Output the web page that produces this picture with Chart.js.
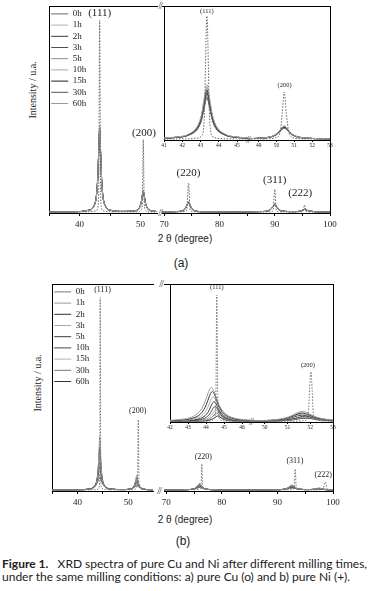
<!DOCTYPE html>
<html>
<head>
<meta charset="utf-8">
<script src="https://cdn.jsdelivr.net/npm/chart.js@4.4.1/dist/chart.umd.min.js"></script>
<style>
  html, body { margin: 0; padding: 0; background: #fff; }
  #page { position: relative; width: 373px; height: 591px; overflow: hidden; background: #fff; }
  canvas { position: absolute; }
  .t { position: absolute; white-space: nowrap; color: #222; line-height: 1; transform: translate(-50%, -50%); }
  .serif { font-family: "Liberation Serif", serif; }
  .sans { font-family: "Liberation Sans", sans-serif; }
  .ylab { font-size: 10px; transform: translate(-50%, -50%) rotate(-90deg); }
  .xlab { font-size: 10px; }
  .sub { font-size: 12px; }
  .brk { font-size: 10px; letter-spacing: -1px; }
  .cap { position: absolute; left: 2px; white-space: nowrap; color: #222; font-family: "Lato", sans-serif; font-size: 12px; line-height: 1; }
</style>
</head>
<body>
<div id="page">
  <div class="t serif ylab" style="left:33px; top:90px;">Intensity / u.a.</div>
  <div class="t sans xlab" style="left:185px; top:239px;">2 &theta; (degree)</div>
  <div class="t sans sub" style="left:181px; top:263px;">(a)</div>

  <div class="t serif ylab" style="left:38px; top:383px;">Intensity / u.a.</div>
  <div class="t sans xlab" style="left:185px; top:520px;">2 &theta; (degree)</div>
  <div class="t sans sub" style="left:183px; top:541px;">(b)</div>

  <div class="t serif brk" style="left:160px; top:6px;">//</div>
  <div class="t serif brk" style="left:160px; top:213px;">//</div>
  <div class="t serif brk" style="left:248px; top:140px;">//</div>
  <div class="t serif brk" style="left:161px; top:284px;">//</div>
  <div class="t serif brk" style="left:159px; top:491px;">//</div>
  <div class="t serif brk" style="left:251px; top:422px;">//</div>

  <div class="cap" style="top:558px;"><b>Figure 1.</b>&nbsp;&nbsp;&nbsp;XRD spectra of pure Cu and Ni after different milling times,</div>
  <div class="cap" style="top:571px;">under the same milling conditions: a) pure Cu (o) and b) pure Ni (+).</div>
</div>
<script>
// series names (milling time)
const timeLabels = ['0h', '1h', '2h', '3h', '5h', '10h', '15h', '30h', '60h'];

// ---- (a) pure Cu, main plot, left part of the broken axis
const cuMainLeftX = [35, 39, 41.5, 42.3, 42.8, 43.0, 43.15, 43.3, 43.45, 43.6, 43.8, 44.3, 45.2, 47,
                     49.2, 49.8, 50.1, 50.3, 50.45, 50.6, 50.8, 51.1, 51.7, 52.7];
const cuMainLeftY = [
  [0.5, 0.5, 0.6, 0.8, 1.2, 2.5, 13, 93, 13, 2.5, 1.2, 0.8, 0.6, 0.5, 0.5, 0.7, 1.5, 5, 35.5, 5, 1.5, 0.7, 0.5, 0.5],
  [0.5, 0.6, 1.3, 2.9, 8.7, 17.3, 30.6, 41.5, 30.6, 17.3, 8.7, 2.9, 1.2, 0.75, 1.1, 2.35, 4.85, 8.7, 10.8, 8.7, 4.8, 2.3, 1.1, 0.7],
  [0.5, 0.6, 1.3, 3.0, 8.9, 17.6, 30.2, 40.6, 30.2, 17.6, 8.9, 3.0, 1.2, 0.75, 1.1, 2.4, 4.9, 8.6, 10.5, 8.6, 4.9, 2.4, 1.1, 0.7],
  [0.5, 0.6, 1.3, 3.0, 9.0, 17.8, 30.0, 40.0, 30.0, 17.8, 9.0, 3.0, 1.2, 0.75, 1.1, 2.4, 4.9, 8.5, 10.3, 8.5, 4.9, 2.4, 1.1, 0.7],
  [0.5, 0.6, 1.3, 2.9, 8.6, 17.2, 30.8, 42.0, 30.8, 17.2, 8.6, 2.9, 1.2, 0.75, 1.1, 2.3, 4.8, 8.8, 11.0, 8.8, 4.8, 2.3, 1.1, 0.7],
  [0.5, 0.6, 1.4, 3.1, 9.2, 18.0, 29.5, 39.0, 29.5, 18.0, 9.2, 3.1, 1.3, 0.8, 1.2, 2.5, 5.0, 8.4, 10.0, 8.4, 5.0, 2.5, 1.2, 0.7],
  [0.5, 0.6, 1.4, 3.1, 9.3, 18.2, 29.2, 38.5, 29.2, 18.2, 9.3, 3.1, 1.3, 0.8, 1.2, 2.5, 5.0, 8.3, 9.9, 8.3, 5.0, 2.5, 1.2, 0.7],
  [0.5, 0.6, 1.3, 3.0, 9.0, 17.7, 30.1, 40.3, 30.1, 17.7, 9.0, 3.0, 1.2, 0.75, 1.1, 2.4, 4.9, 8.6, 10.4, 8.6, 4.9, 2.4, 1.1, 0.7],
  [0.5, 0.6, 1.4, 3.2, 9.4, 18.4, 29.0, 38.0, 29.0, 18.4, 9.4, 3.2, 1.3, 0.8, 1.2, 2.5, 5.1, 8.2, 9.7, 8.2, 5.1, 2.5, 1.2, 0.7]
];

// ---- (a) pure Cu, main plot, right part
const cuMainRightX = [69.6, 72, 73.3, 73.8, 74.1, 74.4, 74.7, 75.0, 75.5, 77, 83, 88, 89.2, 89.7, 90.0, 90.3,
                      90.8, 91.6, 93.5, 94.7, 95.1, 95.4, 95.7, 96.3, 98, 100];
const cuMainRightY = [
  [0.5, 0.5, 0.6, 0.8, 1.4, 14.5, 1.4, 0.8, 0.6, 0.5, 0.5, 0.5, 0.6, 1.2, 11.4, 1.2, 0.6, 0.5, 0.5, 0.55, 0.75, 3.9, 0.75, 0.55, 0.5, 0.5],
  [0.5, 0.63, 1.08, 2.0, 3.7, 5.5, 3.7, 2.0, 1.08, 0.6, 0.5, 0.72, 1.56, 3.3, 4.3, 3.3, 1.56, 0.84, 0.65, 0.94, 1.46, 1.8, 1.46, 0.94, 0.55, 0.5],
  [0.5, 0.63, 1.1, 2.0, 3.6, 5.3, 3.6, 2.0, 1.1, 0.6, 0.5, 0.72, 1.55, 3.2, 4.2, 3.2, 1.55, 0.84, 0.65, 0.94, 1.45, 1.75, 1.45, 0.94, 0.55, 0.5],
  [0.5, 0.64, 1.1, 2.05, 3.7, 5.4, 3.7, 2.05, 1.1, 0.6, 0.5, 0.73, 1.6, 3.3, 4.2, 3.3, 1.6, 0.85, 0.65, 0.95, 1.45, 1.8, 1.45, 0.95, 0.55, 0.5],
  [0.5, 0.62, 1.05, 1.95, 3.8, 5.7, 3.8, 1.95, 1.05, 0.6, 0.5, 0.7, 1.5, 3.3, 4.4, 3.3, 1.5, 0.82, 0.65, 0.92, 1.5, 1.85, 1.5, 0.92, 0.55, 0.5],
  [0.5, 0.65, 1.15, 2.1, 3.6, 5.1, 3.6, 2.1, 1.15, 0.62, 0.5, 0.75, 1.6, 3.1, 4.0, 3.1, 1.6, 0.86, 0.66, 0.96, 1.4, 1.7, 1.4, 0.96, 0.56, 0.5],
  [0.5, 0.65, 1.15, 2.1, 3.5, 5.0, 3.5, 2.1, 1.15, 0.62, 0.5, 0.75, 1.6, 3.1, 3.9, 3.1, 1.6, 0.86, 0.66, 0.96, 1.4, 1.7, 1.4, 0.96, 0.56, 0.5],
  [0.5, 0.64, 1.1, 2.0, 3.7, 5.4, 3.7, 2.0, 1.1, 0.6, 0.5, 0.72, 1.55, 3.25, 4.2, 3.25, 1.55, 0.84, 0.65, 0.94, 1.45, 1.8, 1.45, 0.94, 0.55, 0.5],
  [0.5, 0.66, 1.2, 2.15, 3.5, 4.9, 3.5, 2.15, 1.2, 0.63, 0.5, 0.76, 1.65, 3.0, 3.8, 3.0, 1.65, 0.87, 0.67, 0.97, 1.4, 1.65, 1.4, 0.97, 0.56, 0.5]
];

// ---- (a) pure Cu, inset
const cuInsetLeftX = [41, 41.8, 42.35, 42.85, 43.05, 43.2, 43.35, 43.5, 43.65, 43.85, 44.35, 44.9, 45.6];
const cuInsetLeftY = [
  [0.75, 0.8, 0.9, 1.5, 3, 15, 92.5, 15, 3, 1.5, 0.9, 0.8, 0.75],
  [1.6, 2.4, 4.4, 10.9, 19, 31.1, 41.3, 31.1, 19, 10.9, 4.4, 2.4, 1.6],
  [1.5, 2.2, 4.0, 9.9, 17.2, 28.1, 37.3, 28.1, 17.2, 9.9, 4.0, 2.2, 1.5],
  [1.4, 2.1, 3.9, 9.4, 16.3, 26.6, 35.3, 26.6, 16.3, 9.4, 3.9, 2.1, 1.4],
  [1.5, 2.3, 4.2, 10.4, 18.1, 29.6, 39.3, 29.6, 18.1, 10.4, 4.2, 2.3, 1.5],
  [1.4, 2.1, 3.7, 9.0, 15.6, 25.5, 33.8, 25.5, 15.6, 9.0, 3.7, 2.1, 1.4],
  [1.4, 2.0, 3.6, 8.5, 14.7, 24.0, 31.8, 24.0, 14.7, 8.5, 3.6, 2.0, 1.4],
  [1.4, 2.1, 3.8, 9.3, 16.1, 26.3, 34.8, 26.3, 16.1, 9.3, 3.8, 2.1, 1.4],
  [1.5, 2.2, 4.0, 9.8, 17.0, 27.8, 36.8, 27.8, 17.0, 9.8, 4.0, 2.2, 1.5]
];
const cuInsetRightX = [48.4, 49.2, 49.7, 50.0, 50.2, 50.32, 50.43, 50.55, 50.7, 50.9, 51.2, 51.7, 52.4, 53];
const cuInsetRightY = [
  [0.75, 0.8, 1.0, 2.0, 5.5, 20, 35.8, 20, 5.5, 2.0, 1.0, 0.8, 0.75, 0.75],
  [1.0, 1.5, 2.6, 4.7, 7.6, 9.7, 10.55, 9.6, 6.9, 4.3, 2.4, 1.4, 1.0, 0.95],
  [1.0, 1.5, 2.5, 4.4, 7.1, 8.9, 9.75, 8.9, 6.4, 4.0, 2.3, 1.4, 1.0, 0.95],
  [1.0, 1.4, 2.4, 4.2, 6.8, 8.6, 9.35, 8.5, 6.2, 3.9, 2.2, 1.35, 1.0, 0.9],
  [1.0, 1.5, 2.5, 4.5, 7.3, 9.3, 10.15, 9.2, 6.7, 4.1, 2.35, 1.4, 1.0, 0.95],
  [1.0, 1.4, 2.35, 4.1, 6.6, 8.4, 9.15, 8.3, 6.0, 3.8, 2.2, 1.35, 1.0, 0.9],
  [1.0, 1.4, 2.3, 4.0, 6.5, 8.2, 8.95, 8.1, 5.9, 3.7, 2.1, 1.3, 1.0, 0.9],
  [1.0, 1.45, 2.4, 4.3, 6.9, 8.8, 9.55, 8.7, 6.3, 3.9, 2.25, 1.37, 1.0, 0.92],
  [1.0, 1.5, 2.5, 4.4, 7.2, 9.1, 9.95, 9.0, 6.6, 4.05, 2.3, 1.4, 1.0, 0.94]
];

// ---- (b) pure Ni, main plot
const niMainLeftX = [35, 40, 42.5, 43.3, 43.8, 44.1, 44.25, 44.4, 44.5, 44.6, 44.8, 45.1, 45.6, 46.5,
                     49, 50.3, 50.9, 51.3, 51.5, 51.7, 51.85, 52.0, 52.15, 52.5, 53.0, 53.8, 55];
const niMainLeftY = [
  [0.5, 0.5, 0.55, 0.6, 0.7, 1.0, 1.5, 6, 93.5, 6, 1.5, 0.9, 0.7, 0.6, 0.5, 0.55, 0.6, 0.8, 1.1, 1.8, 4, 34.5, 4, 1.0, 0.7, 0.55, 0.5],
  [0.52, 0.58, 0.93, 1.75, 4.3, 11.0, 19.2, 26.0, 22.5, 16.0, 7.7, 3.4, 1.56, 0.86, 0.66, 0.85, 1.39, 3.09, 5.48, 7.7, 6.26, 4.1, 2.7, 1.39, 0.86, 0.64, 0.56],
  [0.52, 0.6, 1.0, 1.92, 4.6, 10.75, 16.9, 21.0, 18.95, 14.7, 7.9, 3.7, 1.7, 0.91, 0.67, 0.88, 1.46, 3.1, 5.02, 6.5, 5.57, 3.96, 2.76, 1.46, 0.91, 0.66, 0.57],
  [0.52, 0.6, 1.04, 2.02, 4.7, 10.0, 14.4, 17.0, 15.75, 12.9, 7.66, 3.8, 1.8, 0.95, 0.68, 0.91, 1.5, 3.0, 4.5, 5.5, 4.89, 3.7, 2.7, 1.5, 0.93, 0.67, 0.57],
  [0.53, 0.61, 1.07, 2.08, 4.65, 9.14, 12.34, 14.0, 13.2, 11.3, 7.25, 3.82, 1.85, 0.97, 0.68, 0.92, 1.51, 2.85, 4.0, 4.7, 4.28, 3.41, 2.6, 1.51, 0.95, 0.68, 0.58],
  [0.53, 0.61, 1.08, 2.08, 4.46, 8.1, 10.4, 11.5, 10.99, 9.68, 6.65, 3.72, 1.86, 0.98, 0.69, 0.93, 1.48, 2.63, 3.52, 4.0, 3.71, 3.07, 2.43, 1.48, 0.95, 0.69, 0.58],
  [0.53, 0.61, 1.08, 2.04, 4.19, 7.12, 8.76, 9.5, 9.15, 8.26, 5.99, 3.54, 1.83, 0.98, 0.69, 0.92, 1.43, 2.4, 3.06, 3.4, 3.2, 2.73, 2.24, 1.43, 0.94, 0.69, 0.58],
  [0.53, 0.61, 1.06, 1.94, 3.79, 6.05, 7.2, 7.7, 7.47, 6.86, 5.21, 3.25, 1.75, 0.96, 0.68, 0.9, 1.36, 2.16, 2.66, 2.9, 2.76, 2.42, 2.04, 1.36, 0.92, 0.68, 0.58],
  [0.53, 0.6, 1.03, 1.83, 3.4, 5.14, 5.96, 6.3, 6.14, 5.72, 4.52, 2.96, 1.66, 0.94, 0.68, 0.88, 1.3, 1.95, 2.33, 2.5, 2.4, 2.15, 1.85, 1.3, 0.9, 0.68, 0.57]
];
const niMainRightX = [69.6, 72, 74.3, 75.2, 75.7, 76.0, 76.25, 76.4, 76.55, 77.0, 78.0, 80, 86, 90.2,
                      91.5, 92.2, 92.6, 93.0, 93.2, 93.4, 94.0, 95.5, 96.7, 97.5, 98.2, 98.6, 99.0, 100];
const niMainRightY = [
  [0.5, 0.5, 0.55, 0.6, 0.7, 0.8, 1.5, 13.1, 1.5, 0.75, 0.6, 0.5, 0.5, 0.5, 0.55, 0.6, 0.7, 1.4, 10.6, 1.4, 0.7, 0.55, 0.5, 0.55, 0.7, 4.4, 0.7, 0.5],
  [0.52, 0.54, 0.71, 1.27, 2.72, 3.7, 2.94, 2.29, 1.78, 1.04, 0.65, 0.55, 0.52, 0.64, 1.05, 2.16, 2.9, 2.16, 1.7, 1.36, 0.9, 0.7, 0.94, 1.43, 0.97, 0.78, 0.67, 0.57],
  [0.52, 0.54, 0.72, 1.29, 2.56, 3.3, 2.74, 2.21, 1.77, 1.06, 0.66, 0.55, 0.52, 0.64, 1.04, 2.02, 2.6, 2.02, 1.63, 1.34, 0.9, 0.69, 0.9, 1.33, 0.92, 0.75, 0.65, 0.56],
  [0.52, 0.55, 0.73, 1.27, 2.35, 2.9, 2.49, 2.07, 1.7, 1.06, 0.67, 0.55, 0.52, 0.65, 1.03, 1.89, 2.35, 1.89, 1.57, 1.3, 0.9, 0.68, 0.85, 1.23, 0.87, 0.71, 0.63, 0.56],
  [0.52, 0.55, 0.73, 1.26, 2.18, 2.6, 2.29, 1.95, 1.64, 1.06, 0.67, 0.55, 0.52, 0.64, 1.01, 1.75, 2.1, 1.75, 1.48, 1.25, 0.88, 0.68, 0.83, 1.18, 0.85, 0.7, 0.62, 0.55],
  [0.52, 0.55, 0.73, 1.22, 1.98, 2.3, 2.07, 1.81, 1.55, 1.03, 0.67, 0.55, 0.52, 0.64, 0.98, 1.62, 1.9, 1.62, 1.4, 1.2, 0.86, 0.67, 0.82, 1.13, 0.83, 0.69, 0.62, 0.55],
  [0.52, 0.55, 0.73, 1.17, 1.81, 2.05, 1.87, 1.67, 1.46, 1.01, 0.67, 0.55, 0.52, 0.64, 0.97, 1.52, 1.75, 1.52, 1.33, 1.16, 0.84, 0.67, 0.8, 1.08, 0.8, 0.68, 0.61, 0.55],
  [0.52, 0.55, 0.72, 1.13, 1.66, 1.85, 1.72, 1.55, 1.38, 0.99, 0.67, 0.55, 0.52, 0.64, 0.94, 1.42, 1.6, 1.42, 1.26, 1.11, 0.82, 0.66, 0.78, 1.03, 0.78, 0.67, 0.6, 0.55],
  [0.52, 0.55, 0.72, 1.1, 1.55, 1.7, 1.59, 1.46, 1.32, 0.97, 0.67, 0.55, 0.52, 0.64, 0.93, 1.35, 1.5, 1.35, 1.22, 1.08, 0.82, 0.66, 0.77, 0.98, 0.76, 0.66, 0.6, 0.55]
];

// ---- (b) pure Ni, inset
const niInsetLeftX = [42, 42.8, 43.3, 43.7, 43.95, 44.1, 44.2, 44.3, 44.35, 44.4, 44.45, 44.5, 44.55, 44.6,
                      44.65, 44.75, 44.9, 45.1, 45.4, 45.8, 46.5];
const niInsetLeftY = [
  [0.4, 0.42, 0.45, 0.5, 0.55, 0.6, 0.7, 0.9, 1.1, 1.5, 2.5, 5, 20, 92, 20, 2.5, 1.0, 0.7, 0.55, 0.45, 0.42],
  [1.18, 2.19, 4.08, 8.49, 14.86, 20.37, 23.58, 24.9, 24.56, 23.58, 22.13, 20.37, 18.48, 16.62, 14.86, 11.82, 8.49, 5.69, 3.51, 2.19, 1.26],
  [0.95, 1.63, 2.91, 5.89, 10.64, 15.48, 19.08, 21.63, 22.0, 21.63, 20.6, 19.08, 17.31, 15.48, 13.71, 10.64, 7.38, 4.81, 2.91, 1.78, 1.05],
  [0.78, 1.22, 2.05, 3.98, 7.15, 10.71, 13.9, 16.94, 17.94, 18.3, 17.94, 16.94, 15.53, 13.9, 12.25, 9.35, 6.29, 3.98, 2.35, 1.46, 0.88],
  [0.64, 0.91, 1.43, 2.6, 4.55, 6.91, 9.28, 12.13, 13.43, 14.36, 14.7, 14.36, 13.43, 12.13, 10.68, 8.01, 5.2, 3.19, 1.86, 1.16, 0.74],
  [0.55, 0.72, 1.03, 1.72, 2.85, 4.25, 5.75, 7.8, 8.96, 10.03, 10.81, 11.1, 10.81, 10.03, 8.96, 6.71, 4.25, 2.54, 1.47, 0.95, 0.64],
  [0.5, 0.61, 0.8, 1.21, 1.89, 2.72, 3.64, 5.01, 5.89, 6.85, 7.76, 8.44, 8.7, 8.44, 7.76, 5.89, 3.64, 2.11, 1.21, 0.8, 0.57],
  [0.47, 0.53, 0.65, 0.91, 1.3, 1.78, 2.31, 3.13, 3.68, 4.34, 5.06, 5.76, 6.3, 6.5, 6.3, 5.06, 3.13, 1.78, 1.02, 0.69, 0.52],
  [0.44, 0.47, 0.54, 0.67, 0.87, 1.11, 1.38, 1.79, 2.07, 2.43, 2.85, 3.33, 3.8, 4.16, 4.3, 3.8, 2.43, 1.38, 0.82, 0.59, 0.47]
];
const niInsetRightX = [49.4, 50.0, 50.5, 50.9, 51.2, 51.45, 51.65, 51.8, 51.9, 52.03, 52.15, 52.3, 52.5, 52.8, 53];
const niInsetRightY = [
  [0.4, 0.42, 0.45, 0.5, 0.55, 0.65, 0.8, 1.3, 3.5, 36.4, 4, 1.4, 0.8, 0.55, 0.5],
  [0.8, 1.12, 1.74, 2.92, 4.72, 6.76, 7.6, 7.1, 6.37, 5.27, 4.35, 3.4, 2.52, 1.74, 1.42],
  [0.74, 1.01, 1.53, 2.54, 4.06, 5.79, 6.5, 6.08, 5.46, 4.53, 3.74, 2.94, 2.2, 1.53, 1.27],
  [0.7, 0.93, 1.39, 2.26, 3.58, 5.08, 5.7, 5.33, 4.79, 3.99, 3.3, 2.61, 1.96, 1.39, 1.15],
  [0.66, 0.86, 1.26, 2.01, 3.16, 4.46, 5.0, 4.68, 4.21, 3.51, 2.92, 2.32, 1.76, 1.26, 1.05],
  [0.6, 0.73, 0.99, 1.46, 2.18, 3.18, 4.03, 4.3, 4.18, 3.72, 3.18, 2.54, 1.89, 1.3, 1.08],
  [0.57, 0.68, 0.9, 1.3, 1.91, 2.75, 3.47, 3.7, 3.59, 3.21, 2.75, 2.21, 1.66, 1.17, 0.97],
  [0.54, 0.64, 0.83, 1.16, 1.68, 2.39, 3.01, 3.2, 3.11, 2.78, 2.39, 1.93, 1.47, 1.05, 0.89],
  [0.52, 0.6, 0.76, 1.05, 1.5, 2.11, 2.63, 2.8, 2.72, 2.44, 2.11, 1.72, 1.32, 0.96, 0.82]
];

// peak (hkl) labels
const peakText = ['(111)', '(200)', '(220)', '(311)', '(222)'];
const cuPeakX = [43.3, 50.55, 74.4, 90.0, 94.6];
const cuPeakY = [96.6, 38.6, 19.3, 15.9, 9.5];
const niPeakX = [44.95, 51.9, 76.67, 93.16, 98.25];
const niPeakY = [97.1, 38.6, 16.6, 14.6, 7.7];
const insetText = ['(111)', '(200)'];
const cuInsetPeakX = [43.35, 50.45];
const cuInsetPeakY = [96.3, 41];
const niInsetPeakX = [44.6, 51.9];
const niInsetPeakY = [97.8, 41.3];

// line colours per series
const cuColors = ['#666', '#b0b0b0', '#3a3a3a', '#505050', '#8a8a8a', '#a8a8a8', '#1e1e1e', '#555', '#999'];
const niColors = ['#777', '#999', '#333', '#aaa', '#3a3a3a', '#444', '#b0b0b0', '#777', '#333'];

Chart.defaults.font.family = '"Liberation Serif", serif';

const page = document.getElementById('page');

const peakLabelPlugin = {
  id: 'peakLabels',
  afterDatasetsDraw(chart, args, opts) {
    if (!opts.text) return;
    const { ctx, scales: { x, y } } = chart;
    ctx.save();
    ctx.font = opts.font;
    ctx.fillStyle = '#222';
    ctx.textAlign = 'center';
    ctx.textBaseline = 'middle';
    opts.text.forEach((t, i) => {
      const v = opts.xs[i];
      if (v < x.min || v > x.max) return;
      ctx.fillText(t, x.getPixelForValue(v), y.getPixelForValue(opts.ys[i]));
    });
    ctx.restore();
  }
};

const cuMainStyle = { axisH: 20, tickLen: 3, tickPad: 3, step: 5, every: 10, tickFont: 9, labelFont: '11px "Liberation Serif"' };
const niMainStyle = { axisH: 20, tickLen: 3, tickPad: 3, step: 5, every: 10, tickFont: 9, labelFont: '8px "Liberation Serif"' };
const insetStyle = { axisH: 10, tickLen: 2, tickPad: 0.5, step: 1, every: 1, tickFont: 5.5, labelFont: '6.5px "Liberation Serif"' };

function drawSegment(cfg) {
  const st = cfg.style;
  const padL = 12, padR = 12, padT = 3;
  const canvas = document.createElement('canvas');
  canvas.width = cfg.right - cfg.left + padL + padR;
  canvas.height = cfg.bottom - cfg.top + padT + st.axisH;
  canvas.style.left = (cfg.left - padL) + 'px';
  canvas.style.top = (cfg.top - padT) + 'px';
  page.appendChild(canvas);

  const datasets = cfg.ys.map((row, i) => ({
    label: timeLabels[i],
    data: cfg.xs.map((x, j) => ({ x: x, y: row[j] })),
    borderColor: cfg.colors[i],
    backgroundColor: cfg.colors[i],
    borderWidth: 1,
    borderDash: i === 0 ? [1.5, 1.5] : [],
    pointRadius: 0,
    cubicInterpolationMode: 'monotone',
    fill: false
  }));

  return new Chart(canvas, {
    type: 'line',
    data: { datasets },
    plugins: [peakLabelPlugin],
    options: {
      responsive: false,
      animation: false,
      events: [],
      layout: { padding: { left: padL, right: padR, top: padT, bottom: 0 } },
      plugins: {
        tooltip: { enabled: false },
        legend: {
          display: !!cfg.legend,
          position: 'chartArea',
          align: 'start',
          // empty title only pushes the list a few pixels below the frame
          title: { display: true, text: ' ', font: { size: 1 }, padding: { top: 0, bottom: 3 } },
          labels: {
            usePointStyle: true,
            pointStyle: 'line',
            pointStyleWidth: 17,
            padding: 2.2,
            color: '#222',
            font: { size: 9 }
          }
        },
        peakLabels: { text: cfg.labels.text, xs: cfg.labels.xs, ys: cfg.labels.ys, font: st.labelFont }
      },
      scales: {
        x: {
          type: 'linear', position: 'bottom', min: cfg.min, max: cfg.max,
          ticks: {
            stepSize: st.step, includeBounds: false, autoSkip: false, maxRotation: 0,
            padding: st.tickPad, color: '#222', font: { size: st.tickFont },
            callback: (v) => (Math.abs(v % st.every) < 1e-6 ? String(v) : '')
          },
          grid: { display: true, drawOnChartArea: false, drawTicks: true, tickLength: st.tickLen, color: '#000' },
          border: { display: true, color: '#000', width: 1 },
          afterFit: (s) => { s.height = st.axisH; }
        },
        x2: {
          type: 'linear', position: 'top', min: cfg.min, max: cfg.max,
          ticks: { display: false }, grid: { display: false },
          border: { display: true, color: '#000', width: 1 },
          afterFit: (s) => { s.height = 0; }
        },
        y: {
          type: 'linear', position: cfg.side, min: 0, max: 100,
          ticks: { display: false }, grid: { display: false },
          border: { display: true, color: '#000', width: 1 },
          afterFit: (s) => { s.width = 0; }
        }
      }
    }
  });
}

// (a) Cu
drawSegment({ left: 49, right: 157, top: 6, bottom: 213, min: 35, max: 52.7, side: 'left', legend: true,
  xs: cuMainLeftX, ys: cuMainLeftY, colors: cuColors, style: cuMainStyle,
  labels: { text: peakText, xs: cuPeakX, ys: cuPeakY } });
drawSegment({ left: 162, right: 330, top: 6, bottom: 213, min: 69.6, max: 100, side: 'right',
  xs: cuMainRightX, ys: cuMainRightY, colors: cuColors, style: cuMainStyle,
  labels: { text: peakText, xs: cuPeakX, ys: cuPeakY } });
drawSegment({ left: 164, right: 248, top: 6, bottom: 140, min: 41, max: 45.6, side: 'left',
  xs: cuInsetLeftX, ys: cuInsetLeftY, colors: cuColors, style: insetStyle,
  labels: { text: insetText, xs: cuInsetPeakX, ys: cuInsetPeakY } });
drawSegment({ left: 248, right: 330, top: 6, bottom: 140, min: 48.4, max: 53, side: 'right',
  xs: cuInsetRightX, ys: cuInsetRightY, colors: cuColors, style: insetStyle,
  labels: { text: insetText, xs: cuInsetPeakX, ys: cuInsetPeakY } });

// (b) Ni
drawSegment({ left: 52, right: 153, top: 284, bottom: 491, min: 35, max: 54.9, side: 'left', legend: true,
  xs: niMainLeftX, ys: niMainLeftY, colors: niColors, style: niMainStyle,
  labels: { text: peakText, xs: niPeakX, ys: niPeakY } });
drawSegment({ left: 164, right: 333, top: 284, bottom: 491, min: 69.6, max: 100, side: 'right',
  xs: niMainRightX, ys: niMainRightY, colors: niColors, style: niMainStyle,
  labels: { text: peakText, xs: niPeakX, ys: niPeakY } });
drawSegment({ left: 170, right: 251, top: 284, bottom: 422, min: 42, max: 46.5, side: 'left',
  xs: niInsetLeftX, ys: niInsetLeftY, colors: niColors, style: insetStyle,
  labels: { text: insetText, xs: niInsetPeakX, ys: niInsetPeakY } });
drawSegment({ left: 251, right: 333, top: 284, bottom: 422, min: 49.4, max: 53, side: 'right',
  xs: niInsetRightX, ys: niInsetRightY, colors: niColors, style: insetStyle,
  labels: { text: insetText, xs: niInsetPeakX, ys: niInsetPeakY } });
</script>
</body>
</html>
